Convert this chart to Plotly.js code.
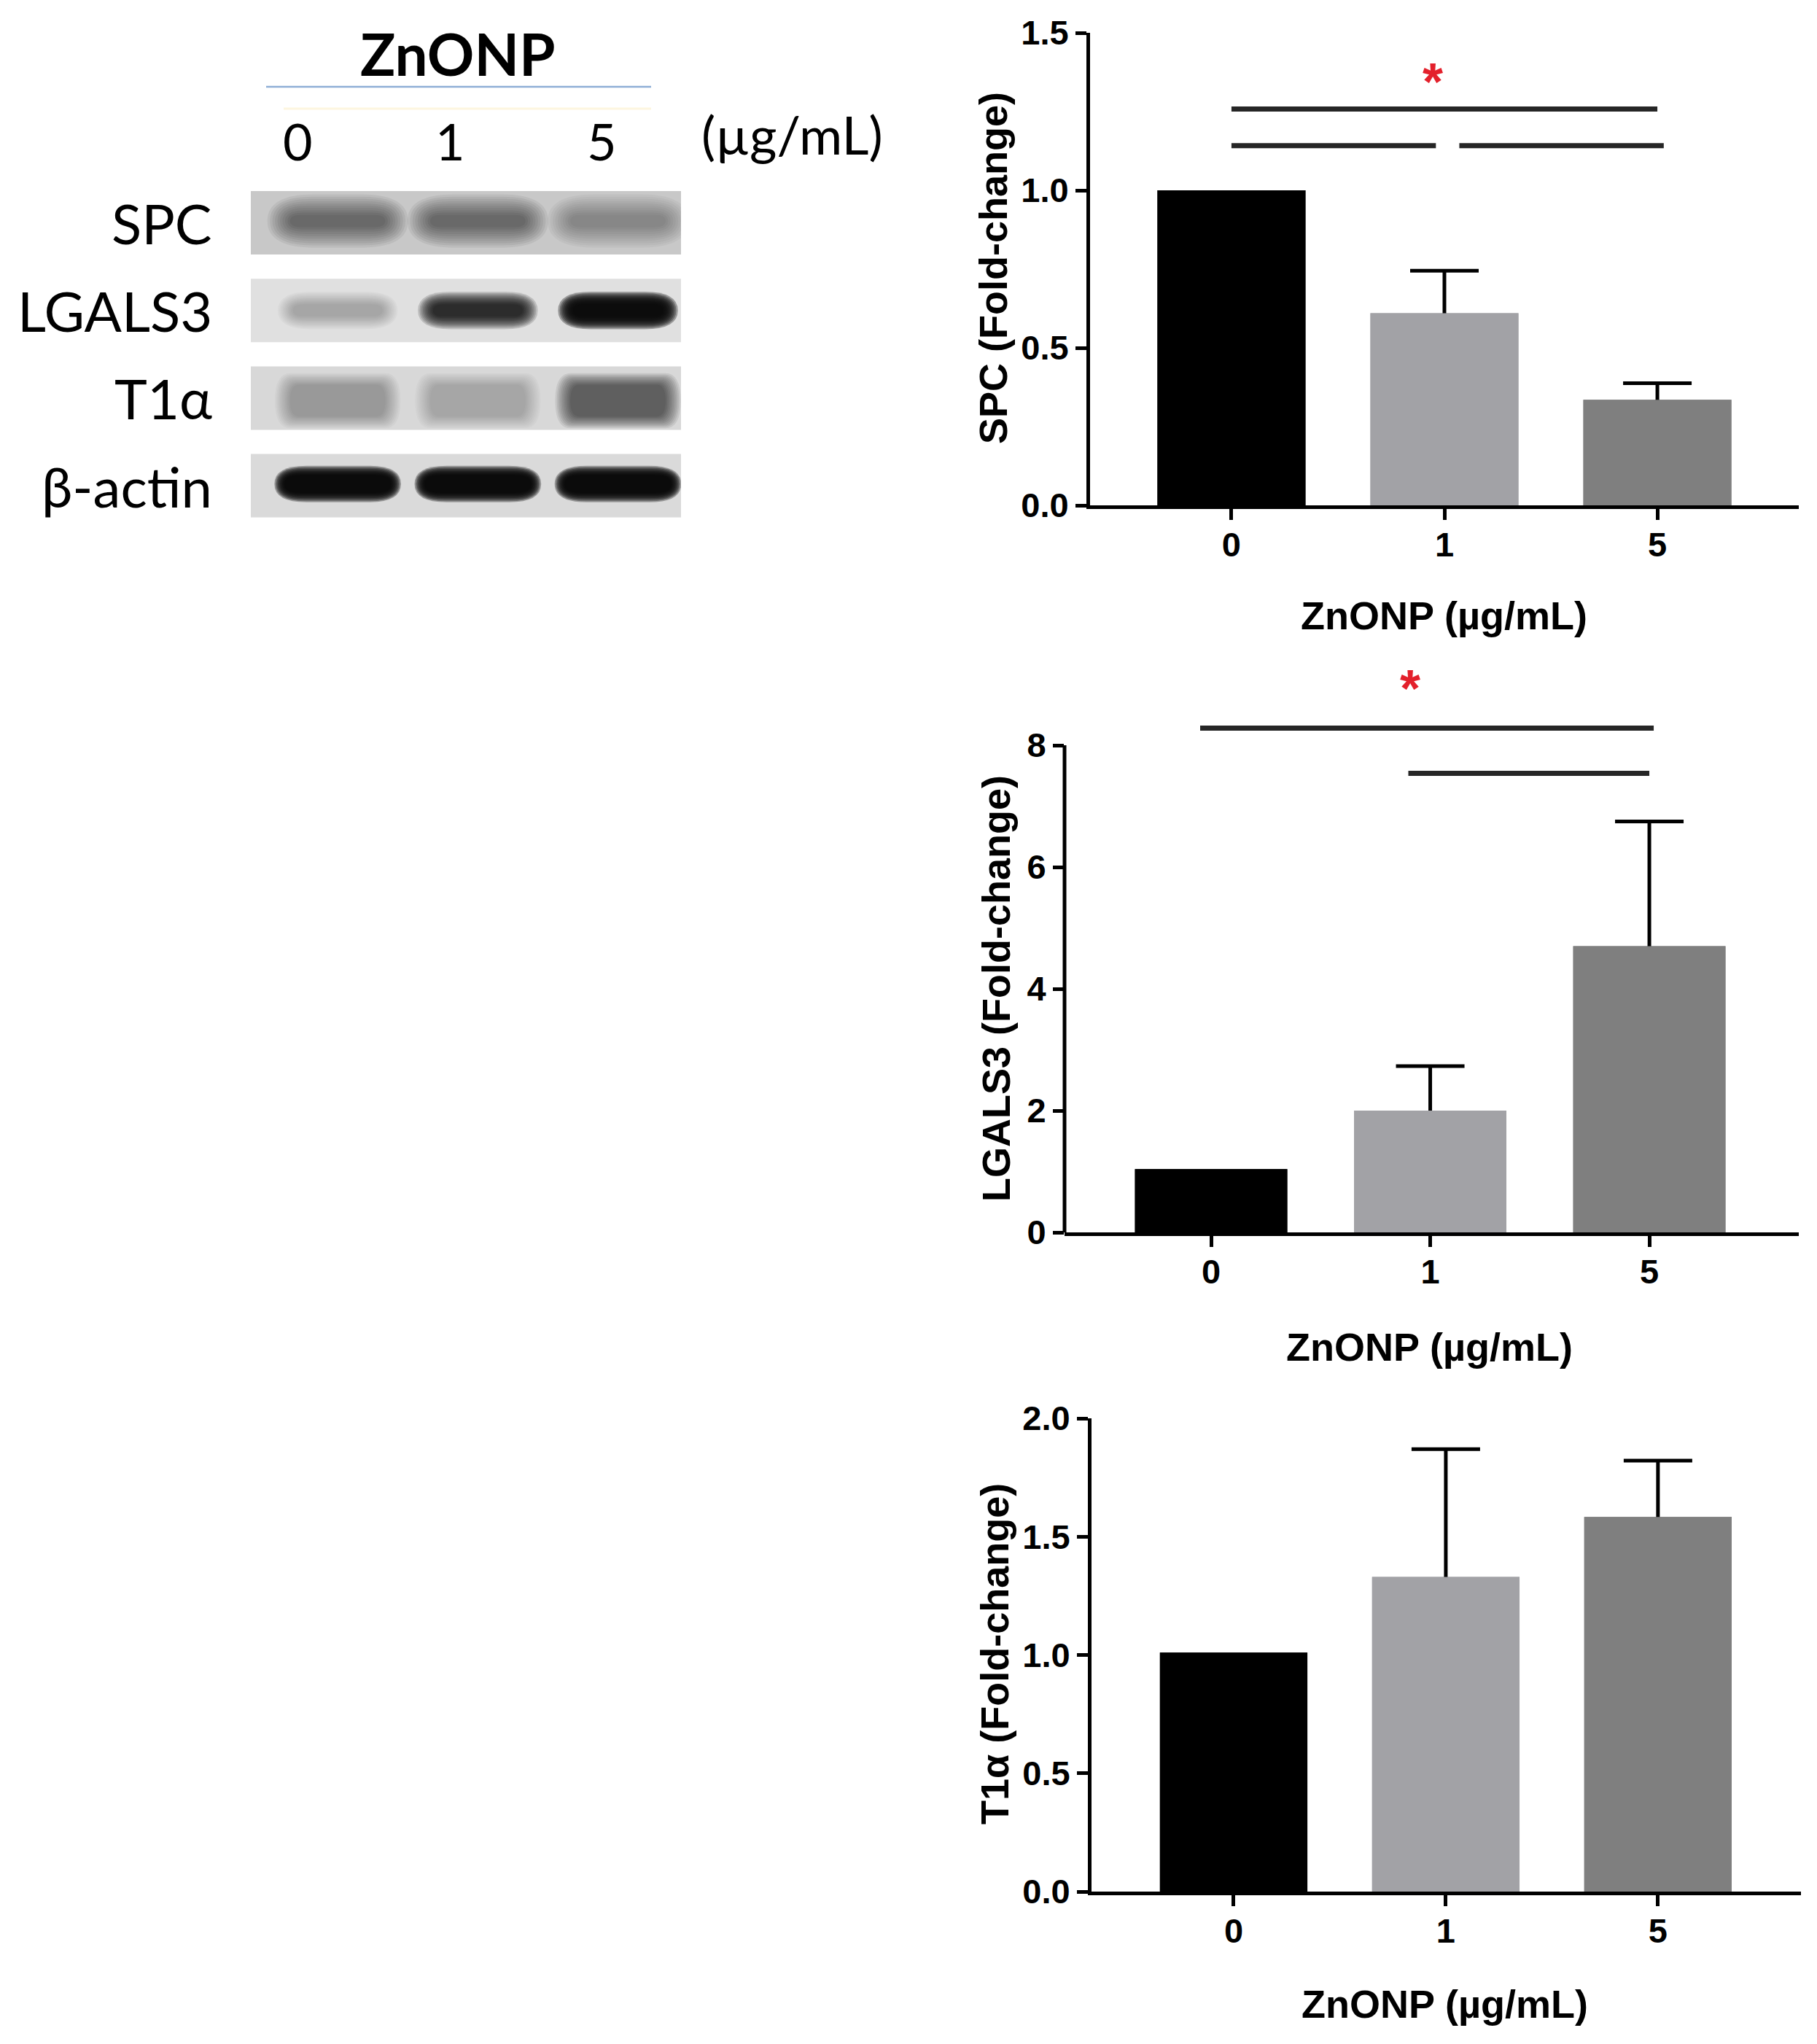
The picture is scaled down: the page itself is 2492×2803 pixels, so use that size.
<!DOCTYPE html>
<html>
<head>
<meta charset="utf-8">
<script src="https://cdn.plot.ly/plotly-3.0.1.min.js"></script>
<style>html,body{margin:0;padding:0;background:#fff;}#chart{width:2492px;height:2803px;}</style>
</head>
<body>
<div id="chart"></div>
<script>
// ---------------- DATA ----------------
const doses = ['0', '1', '5'];              // ZnONP (µg/mL)
const spcMean = [1.0, 0.61, 0.335];
const spcSem = [0, 0.135, 0.053];
const lgals3Mean = [1.04, 2.0, 4.70];
const lgals3Sem = [0, 0.73, 2.05];
const t1aMean = [1.01, 1.33, 1.583];
const t1aSem = [0, 0.54, 0.238];

const spcTicks = [0, 0.5, 1.0, 1.5];
const lgals3Ticks = [0, 2, 4, 6, 8];
const t1aTicks = [0, 0.5, 1.0, 1.5, 2.0];

// significance brackets: start / end in bar units, height in data units
const spcBracketX0 = [0, 0, 1.07];
const spcBracketX1 = [2, 0.96, 2.03];
const spcBracketY = [1.258, 1.142, 1.142];
const lgals3BracketX0 = [-0.05, 0.9];
const lgals3BracketX1 = [2.02, 2.0];
const lgals3BracketY = [8.28, 7.54];

// western blot: rows and band darkness per lane (0 = none, 1 = black)
const blotRows = ['SPC', 'LGALS3', 'T1\u03B1', '\u03B2-actin'];
const spcBand = [0.45, 0.45, 0.30];
const lgals3Band = [0.25, 0.82, 0.98];
const t1aBand = [0.26, 0.20, 0.58];
const actinBand = [0.97, 0.97, 0.97];

// ---------------- LAYOUT HELPERS ----------------
const W = 2492, H = 2803;
const px = p => p / W;
const py = p => 1 - p / H;
const barColors = ['#000000', '#a2a2a6', '#7f7f7f'];
const AX = 'Liberation Sans, Arial, sans-serif';
const BL = 'Lato, "Open Sans", sans-serif';

const panels = [
  {mean: spcMean, sem: spcSem, ticks: spcTicks, fmt: '.1f', top: 1.5, xa: 'x', ya: 'y',
   left: 1495, right: 2467, bottom: 693, unit: 432, xr: [-0.664, 2.664],
   title: 'SPC (Fold-change)', tx: 1362, ty: 368, xtx: 1980, xty: 844,
   bx0: spcBracketX0, bx1: spcBracketX1, by: spcBracketY, manualLine: false, starDx: -16, starDy: -4},
  {mean: lgals3Mean, sem: lgals3Sem, ticks: lgals3Ticks, fmt: 'd', top: 8.6, xa: 'x2', ya: 'y2',
   left: 1460, right: 2467, bottom: 1690, unit: 83.5, xr: [-0.669, 2.682],
   title: 'LGALS3 (Fold-change)', tx: 1366, ty: 1356, xtx: 1961, xty: 1847,
   bx0: lgals3BracketX0, bx1: lgals3BracketX1, by: lgals3BracketY, manualLine: true, starDx: -23, starDy: 13},
  {mean: t1aMean, sem: t1aSem, ticks: t1aTicks, fmt: '.1f', top: 2.0, xa: 'x3', ya: 'y3',
   left: 1497, right: 2470, bottom: 2594, unit: 324.5, xr: [-0.67, 2.674],
   title: 'T1\u03B1 (Fold-change)', tx: 1364, ty: 2268, xtx: 1981, xty: 2748,
   bx0: [], bx1: [], by: [], manualLine: false, starDx: 0, starDy: 0}
];

const traces = [];
const shapes = [];
const annotations = [];
const layout = {
  width: W, height: H, margin: {l: 0, r: 0, t: 0, b: 0},
  paper_bgcolor: '#fff', plot_bgcolor: 'rgba(0,0,0,0)',
  showlegend: false, bargap: 0.305, barmode: 'overlay',
  font: {family: AX, color: '#000'}
};

panels.forEach((p, k) => {
  const sfx = k === 0 ? '' : String(k + 1);
  const xs = doses.map((_, i) => i);
  // bars carrying the (symmetric) SEM bars ...
  traces.push({
    type: 'bar', x: xs, y: p.mean, xaxis: p.xa, yaxis: p.ya,
    marker: {color: barColors, line: {width: 0}}, hoverinfo: 'skip',
    error_y: {type: 'data', symmetric: true,
      array: p.sem.map(v => v > 0 ? v : NaN),
      color: '#000', thickness: 5, width: 47}
  });
  // ... and the same bars on top, so only the upper half of each SEM bar shows
  traces.push({
    type: 'bar', x: xs, y: p.mean, xaxis: p.xa, yaxis: p.ya,
    marker: {color: barColors, line: {width: 0}}, hoverinfo: 'skip'
  });
  const topPx = p.bottom - p.top * p.unit;
  layout['xaxis' + sfx] = {
    domain: [px(p.left), px(p.right)], range: p.xr, anchor: p.ya,
    tickmode: 'array', tickvals: xs, ticktext: doses,
    ticks: 'outside', ticklen: 15, tickwidth: 5, tickcolor: '#000', ticklabelstandoff: -6,
    showline: true, linewidth: 5, linecolor: '#000',
    showgrid: false, zeroline: false, fixedrange: true,
    tickfont: {family: AX, size: 47, color: '#000', weight: 'bold'}
  };
  layout['yaxis' + sfx] = {
    domain: [py(p.bottom), py(topPx)], range: [0, p.top], anchor: p.xa,
    tickmode: 'array', tickvals: p.ticks, tickformat: p.fmt,
    ticks: 'outside', ticklen: 15, tickwidth: 5, tickcolor: '#000',
    showline: !p.manualLine, linewidth: 5, linecolor: '#000',
    showgrid: false, zeroline: false, fixedrange: true,
    tickfont: {family: AX, size: 47, color: '#000', weight: 'bold'}
  };
  if (p.manualLine) {
    shapes.push({type: 'line', xref: p.xa + ' domain', yref: p.ya, x0: 0, x1: 0,
      y0: 0, y1: p.ticks[p.ticks.length - 1], line: {color: '#000', width: 5}});
  }
  // significance brackets
  p.by.forEach((yv, j) => {
    shapes.push({type: 'line', xref: p.xa, yref: p.ya, x0: p.bx0[j], x1: p.bx1[j], y0: yv, y1: yv,
      line: {color: '#262626', width: 7}});
  });
  if (p.by.length) {
    const t = p.by.indexOf(Math.max(...p.by));
    annotations.push({xref: p.xa, yref: p.ya, x: (p.bx0[t] + p.bx1[t]) / 2, y: p.by[t],
      text: '*', showarrow: false, xanchor: 'center', yanchor: 'bottom',
      xshift: p.starDx, yshift: p.starDy,
      font: {family: AX, size: 72, color: '#e3202b', weight: 'bold'}});
  }
  annotations.push({xref: 'paper', yref: 'paper', x: px(p.tx), y: py(p.ty), text: p.title,
    textangle: -90, showarrow: false, xanchor: 'center', yanchor: 'middle',
    font: {family: AX, size: 54, color: '#000', weight: 'bold'}});
  annotations.push({xref: 'paper', yref: 'paper', x: px(p.xtx), y: py(p.xty), text: 'ZnONP (\u00B5g/mL)',
    showarrow: false, xanchor: 'center', yanchor: 'middle',
    font: {family: AX, size: 54, color: '#000', weight: 'bold'}});
});

// ---------------- WESTERN BLOT ----------------
layout.xaxis4 = {domain: [px(344), px(934)], range: [-0.62, 2.45], anchor: 'y4', visible: false, fixedrange: true};
layout.yaxis4 = {domain: [py(726.2), py(245.4)], range: [3.5, -0.5], anchor: 'x4', visible: false, fixedrange: true};
traces.push({type: 'scatter', x: [], y: [], xaxis: 'x4', yaxis: 'y4', hoverinfo: 'skip'});

const bandSets = [spcBand, lgals3Band, t1aBand, actinBand];
const rowStyle = [
  {bg: '#c8c8c8', hw: 0.34, hh: 0.07, dy: -0.02, bx: 0.018, by: 0.026, round: 1.1},
  {bg: '#e0e0e0', hw: 0.32, hh: 0.07, dy: 0.0, bx: 0.012, by: 0.016, round: 1.1},
  {bg: '#d8d8d8', hw: 0.34, hh: 0.18, dy: 0.03, bx: 0.012, by: 0.015, round: 0.35},
  {bg: '#dadada', hw: 0.38, hh: 0.10, dy: -0.02, bx: 0.008, by: 0.012, round: 1.1}
];
const L = 10, rowHalf = 0.362;
function stadium(cx, cy, hw, hh, round) {
  const rx = Math.min(hw, hh * round);
  const x0 = cx - hw, x1 = cx + hw, y0 = cy - hh, y1 = cy + hh;
  return `M${x0 + rx},${y0} L${x1 - rx},${y0} Q${x1},${y0} ${x1},${cy} Q${x1},${y1} ${x1 - rx},${y1} ` +
         `L${x0 + rx},${y1} Q${x0},${y1} ${x0},${cy} Q${x0},${y0} ${x0 + rx},${y0} Z`;
}
blotRows.forEach((name, r) => {
  const st = rowStyle[r];
  shapes.push({type: 'rect', xref: 'x4 domain', yref: 'y4', x0: 0, x1: 1, y0: r - rowHalf, y1: r + rowHalf,
    fillcolor: st.bg, line: {width: 0}, layer: 'above'});
  bandSets[r].forEach((d, i) => {
    const a = 1 - Math.pow(1 - d, 1 / L);
    for (let k = 0; k < L; k++) {
      const s = L - 1 - k;
      shapes.push({type: 'path', xref: 'x4', yref: 'y4',
        path: stadium(i, r + st.dy, st.hw + s * st.bx, Math.min(st.hh + s * st.by, rowHalf - 0.01), st.round),
        fillcolor: `rgba(8,8,8,${a.toFixed(3)})`, line: {width: 0}, layer: 'above'});
    }
  });
  annotations.push({xref: 'paper', yref: 'y4', x: px(293), y: r, text: name, showarrow: false,
    xanchor: 'right', yanchor: 'middle', font: {family: BL, size: 76, color: '#000'}});
});
doses.forEach((d, i) => {
  annotations.push({xref: 'paper', yref: 'paper', x: px(408 + 209 * i), y: py(193), text: d, showarrow: false,
    xanchor: 'center', yanchor: 'middle', font: {family: BL, size: 70, color: '#000'}});
});
annotations.push({xref: 'paper', yref: 'paper', x: px(1086), y: py(184), text: '(\u00B5g/mL)', showarrow: false,
  xanchor: 'center', yanchor: 'middle', font: {family: BL, size: 72, color: '#000'}});
annotations.push({xref: 'paper', yref: 'paper', x: px(628), y: py(73), text: 'ZnONP', showarrow: false,
  xanchor: 'center', yanchor: 'middle', font: {family: BL, size: 80, color: '#000', weight: 'bold'}});
shapes.push({type: 'line', xref: 'paper', yref: 'paper', x0: px(365), x1: px(893), y0: py(119), y1: py(119),
  line: {color: '#8eaed6', width: 2.5}});
shapes.push({type: 'line', xref: 'paper', yref: 'paper', x0: px(389), x1: px(893), y0: py(149), y1: py(149),
  line: {color: '#fdf6df', width: 3}});

layout.shapes = shapes;
layout.annotations = annotations;
Plotly.newPlot('chart', traces, layout, {staticPlot: true, displayModeBar: false});
</script>
</body>
</html>
